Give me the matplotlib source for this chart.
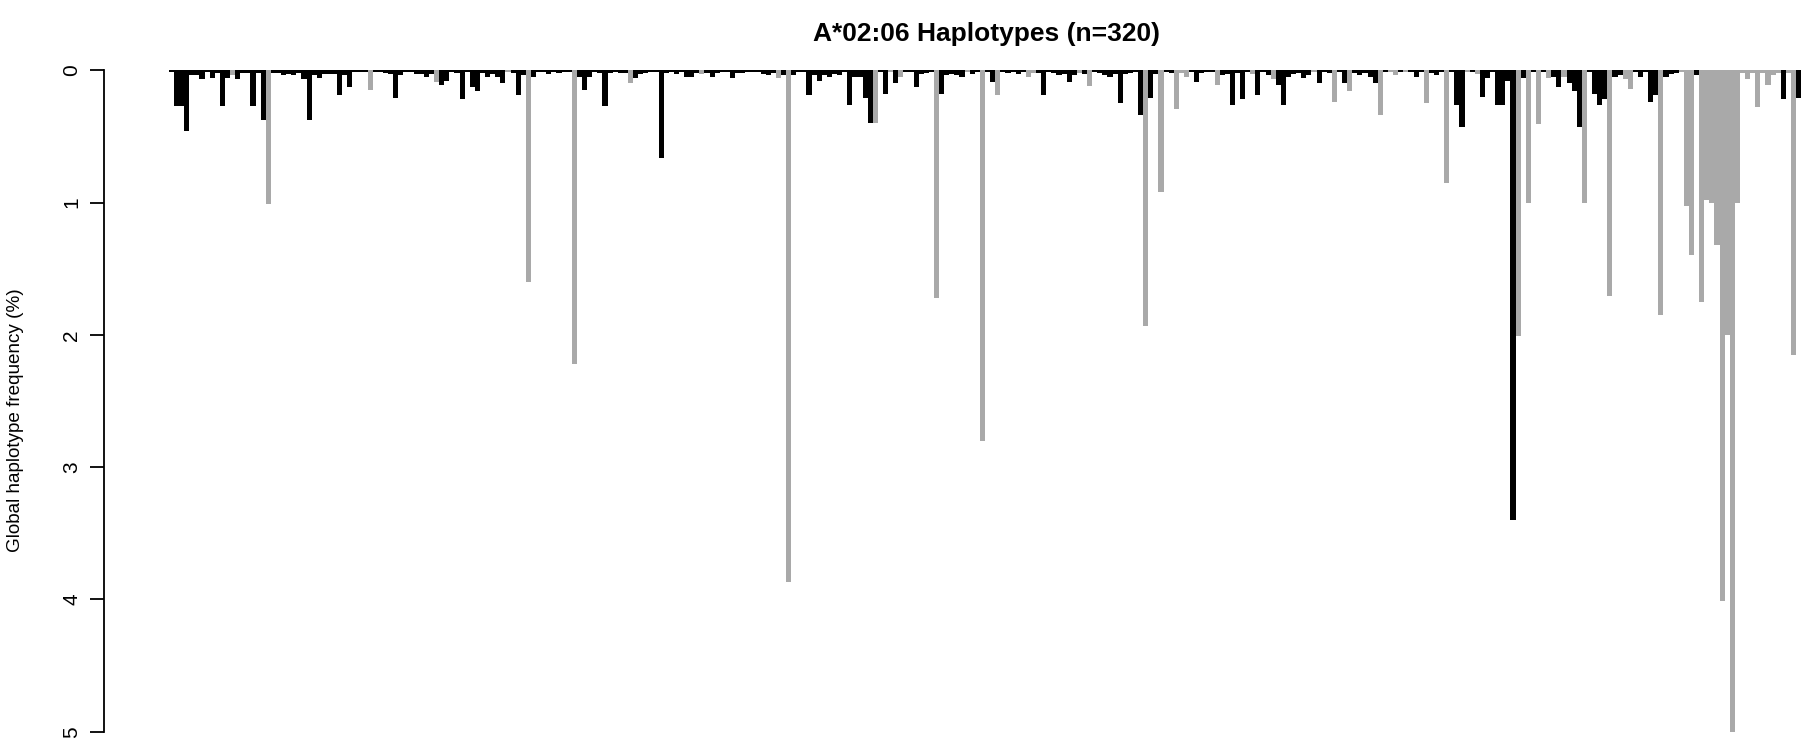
"""A*02:06 haplotype frequencies as an inverted bar chart."""
import numpy as np
import matplotlib
matplotlib.use('Agg')
import matplotlib.pyplot as plt

plt.rcParams['font.family'] = ['Liberation Sans', 'DejaVu Sans']

# Figure size in pixels (dpi 100)
fig_w, fig_h = 1805, 749

title = 'A*02:06 Haplotypes (n=320)'
y_label = 'Global haplotype frequency (%)'
y_ticks = [0, 1, 2, 3, 4, 5]

# Global frequency (%) of each haplotype, in plotting order (40 per row)
freq = [
    0.01, 0.27, 0.27, 0.46, 0.04, 0.04, 0.07, 0.01, 0.06, 0.02,
    0.27, 0.06, 0.04, 0.07, 0.02, 0.02, 0.27, 0.02, 0.38, 1.01,
    0.02, 0.02, 0.04, 0.03, 0.04, 0.02, 0.07, 0.38, 0.04, 0.06,
    0.03, 0.03, 0.03, 0.19, 0.04, 0.13, 0.01, 0.01, 0.01, 0.15,
    0.01, 0.01, 0.02, 0.03, 0.21, 0.04, 0.01, 0.01, 0.03, 0.03,
    0.05, 0.03, 0.09, 0.11, 0.08, 0.01, 0.02, 0.22, 0.01, 0.13,
    0.16, 0.02, 0.05, 0.03, 0.05, 0.10, 0.01, 0.02, 0.19, 0.04,
    1.60, 0.05, 0.01, 0.01, 0.03, 0.01, 0.02, 0.01, 0.01, 2.22,
    0.05, 0.15, 0.05, 0.01, 0.02, 0.27, 0.02, 0.01, 0.02, 0.02,
    0.10, 0.06, 0.03, 0.02, 0.01, 0.01, 0.66, 0.02, 0.01, 0.03,
    0.01, 0.05, 0.05, 0.02, 0.03, 0.02, 0.05, 0.02, 0.01, 0.01,
    0.06, 0.02, 0.02, 0.01, 0.01, 0.01, 0.03, 0.04, 0.02, 0.06,
    0.04, 3.87, 0.04, 0.01, 0.01, 0.19, 0.04, 0.08, 0.04, 0.05,
    0.03, 0.04, 0.01, 0.26, 0.05, 0.05, 0.21, 0.40, 0.40, 0.01,
    0.18, 0.01, 0.10, 0.05, 0.01, 0.01, 0.13, 0.03, 0.02, 0.01,
    1.72, 0.18, 0.04, 0.03, 0.04, 0.05, 0.01, 0.03, 0.01, 2.80,
    0.01, 0.09, 0.19, 0.01, 0.02, 0.01, 0.03, 0.01, 0.05, 0.02,
    0.02, 0.19, 0.01, 0.02, 0.04, 0.03, 0.09, 0.04, 0.02, 0.03,
    0.12, 0.01, 0.02, 0.04, 0.05, 0.03, 0.25, 0.03, 0.02, 0.01,
    0.34, 1.93, 0.21, 0.03, 0.92, 0.01, 0.02, 0.29, 0.02, 0.05,
    0.01, 0.09, 0.02, 0.01, 0.01, 0.11, 0.04, 0.03, 0.26, 0.02,
    0.22, 0.01, 0.03, 0.19, 0.01, 0.04, 0.07, 0.11, 0.26, 0.05,
    0.03, 0.02, 0.06, 0.04, 0.01, 0.10, 0.01, 0.02, 0.24, 0.01,
    0.10, 0.16, 0.02, 0.04, 0.02, 0.05, 0.10, 0.34, 0.01, 0.01,
    0.04, 0.01, 0.01, 0.01, 0.05, 0.01, 0.25, 0.02, 0.04, 0.01,
    0.85, 0.01, 0.26, 0.43, 0.01, 0.01, 0.03, 0.20, 0.06, 0.01,
    0.26, 0.26, 0.08, 3.40, 2.01, 0.06, 1.00, 0.01, 0.41, 0.01,
    0.06, 0.05, 0.13, 0.05, 0.10, 0.16, 0.43, 1.00, 0.01, 0.18,
    0.26, 0.22, 1.71, 0.05, 0.04, 0.07, 0.14, 0.01, 0.05, 0.01,
    0.24, 0.19, 1.85, 0.05, 0.03, 0.02, 0.01, 1.03, 1.40, 0.04,
    1.75, 0.98, 1.00, 1.32, 4.01, 2.00, 5.00, 1.00, 0.02, 0.07,
    0.02, 0.28, 0.02, 0.11, 0.04, 0.02, 0.22, 0.02, 2.15, 0.21,
]

# Group of each haplotype: 'b' = black bar, 'g' = grey bar (40 per row)
group_rows = [
    'bbbbbbbbbbbbgbbbbbbgbbbbbbbbbbbbbbbbbbbg',
    'bbbbbbbbbbbbgbbbbbbbbbbbbbgbbbgbbbbbbbbg',
    'bbbbbbbbbbgbbbbbbbbbbbbbgbbbbbbbbbbbbbbg',
    'bgbbbbbbbbbbbbbbbbgbbgbgbbbbbbgbbbbbgbbg',
    'bbgbbbbbggbbbbbbbbgbgbbbbbbbbbbgbbgbbggg',
    'bbbbbgbbbbbbgbbbgbbbbbbbgbbbgbbgbbbbbgbg',
    'gbgbbbgbbbgbbbgbgbbbbbbbgbgbgbgbbgbbbgbb',
    'bbgbbggbbbbbgbbbgggbggggggggggggggggbggb',
]
group = ''.join(group_rows)

grey = '#A9A9A9'
colors = ['black' if g == 'b' else grey for g in group]
x = np.arange(len(freq))

fig = plt.figure(figsize=(fig_w / 100, fig_h / 100), dpi=100)

# Plot region in pixels: y=0 at 70 px, y=5 at 732 px from top
left, top, bottom = 103.5, 70.2, 731.7
width = 1763
ax = fig.add_axes([left / fig_w, 1 - bottom / fig_h,
                   width / fig_w, (bottom - top) / fig_h])

ax.bar(x, freq, width=1, align='edge', color=colors,
       linewidth=0, antialiased=False)

ax.set_xlim(-0.04 * len(freq), len(freq) * 1.04)
ax.set_ylim(5, 0)

# R-style axis: only a left axis spanning the ticks
for side in ['top', 'right', 'bottom']:
    ax.spines[side].set_visible(False)
ax.spines['left'].set_bounds(0, 5)
ax.spines['left'].set_linewidth(1.3)
ax.set_xticks([])
ax.set_yticks(y_ticks)
ax.set_yticklabels([str(t) for t in y_ticks], rotation=90, va='center')
ax.tick_params(axis='y', length=10, width=1.3, pad=6, labelsize=15)

fig.text(16 / fig_w, 1 - 420 / fig_h, y_label, rotation=90,
         ha='center', va='center', fontsize=13.6)
fig.text(987 / fig_w, 1 - 34 / fig_h, title, ha='center', va='center',
         fontsize=19, fontweight='bold')

fig.savefig('out.png', dpi=100)
